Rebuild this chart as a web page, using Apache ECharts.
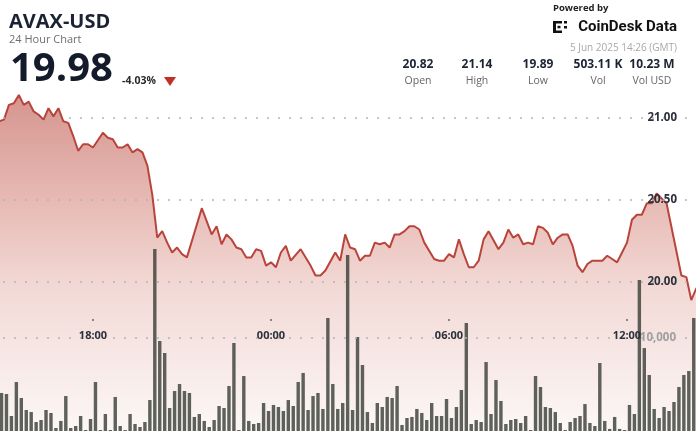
<!DOCTYPE html>
<html><head><meta charset="utf-8">
<script src="https://cdn.jsdelivr.net/npm/echarts@6/dist/echarts.min.js"></script>
<style>html,body{margin:0;padding:0;background:#fff}#c{width:696px;height:431px}</style>
</head><body><div id="c"></div>
<script>
// Times are minutes relative to 00:00 GMT, 5 Jun 2025 (negative = 4 Jun)
const priceTimes = [-550,-540,-530,-520,-510,-500,-490,-480,-470,-460,-450,-440,-430,-420,-410,-400,-390,-380,-370,-360,
  -340,-330,-320,-310,-300,-290,-280,-270,-260,-250,-240,-230,-220,-210,-200,-190,-180,-170,-140,-120,
  -110,-100,-90,-80,-70,-60,-50,-40,-30,-20,-10,0,10,20,30,40,60,80,90,100,
  110,130,140,150,160,170,180,190,200,210,220,230,240,250,260,270,280,290,300,310,
  330,340,350,360,370,380,390,400,410,420,430,440,460,470,480,490,500,510,520,530,
  540,550,560,570,580,590,600,610,620,630,640,650,670,680,690,700,710,720,730,740,
  750,760,770,780,790,800,830,840,850,860,866];
const prices = [20.98,20.99,21.08,21.09,21.14,21.08,21.10,21.04,21.02,20.99,21.06,21.01,21.06,20.98,20.97,20.89,20.80,20.84,20.84,20.82,
  20.91,20.88,20.87,20.82,20.82,20.84,20.79,20.81,20.79,20.71,20.53,20.27,20.31,20.24,20.18,20.21,20.17,20.15,20.45,20.29,
  20.34,20.23,20.29,20.26,20.21,20.20,20.15,20.15,20.20,20.19,20.10,20.12,20.09,20.18,20.22,20.13,20.20,20.10,20.04,20.04,
  20.07,20.18,20.13,20.29,20.21,20.20,20.13,20.16,20.16,20.24,20.23,20.24,20.21,20.29,20.29,20.31,20.34,20.34,20.32,20.24,
  20.14,20.13,20.13,20.17,20.15,20.26,20.17,20.09,20.09,20.13,20.26,20.31,20.20,20.24,20.32,20.27,20.29,20.23,20.24,20.23,
  20.34,20.33,20.30,20.23,20.27,20.29,20.29,20.22,20.10,20.06,20.11,20.13,20.13,20.16,20.14,20.12,20.18,20.24,20.38,20.41,
  20.41,20.48,20.48,20.54,20.51,20.48,20.04,20.03,19.89,19.96,19.98];
// 10-minute volume bars, first bar centred at volStart, one bar per 10 minutes
const volStart = -545;
const volStep = 10;
const volumes = [4090,3980,1610,5270,3550,2260,2040,970,1180,2260,
  1940,320,1080,3760,320,540,1610,110,1290,5270,
  110,1830,110,3660,540,110,1830,750,430,970,
  3330,19570,9680,8390,2470,4300,5050,4300,4090,1510,
  1830,1080,430,1180,2690,2470,4840,9460,110,5910,
  1080,750,860,3010,2150,2800,2580,2150,3330,2690,
  5270,6240,2260,3760,4090,2370,12150,5050,2370,3010,
  18920,2260,10110,7100,2040,860,3010,2580,3660,3550,
  4840,650,1400,1510,2370,1940,1180,3010,1610,1610,
  3440,1400,2580,4410,11610,750,1180,970,7420,1830,
  5480,3230,750,1180,1290,860,1610,110,5910,4730,
  2580,2470,2040,860,110,970,1400,1610,2900,860,
  540,7310,1080,220,1510,220,110,2800,1830,16240,
  8920,6020,2370,1400,2580,2150,3120,4730,6020,6450,
  12150,4620];
const timeTicks = [-360, 0, 360, 720];
const timeTickLabels = ['18:00', '00:00', '06:00', '12:00'];
const priceTicks = [20.00, 20.50, 21.00];
const volTicks = [10000];
const stats = [['20.82','Open'],['21.14','High'],['19.89','Low'],['503.11 K','Vol'],['10.23 M','Vol USD']];

const FONT = '"Open Sans", "Noto Sans", sans-serif';
const priceData = priceTimes.map((t, i) => [t, prices[i]]);
const volData = volumes.map((v, i) => [volStart + volStep * i, v]);
const dotted = {type: [2, 9], color: '#b4b4b4', width: 1.5};

const statX = [418, 477, 538, 598, 652];
const graphics = [
  {type:'text', x:9, y:22, style:{text:'AVAX-USD', font:'bold 20px ' + FONT, fill:'#1b2333', verticalAlign:'middle'}},
  {type:'text', x:9, y:40, style:{text:'24 Hour Chart', font:'11px ' + FONT, fill:'#6e6e6e', verticalAlign:'middle'}},
  {type:'text', x:10, y:70, style:{text:'19.98', font:'bold 40px ' + FONT, fill:'#141c2c', verticalAlign:'middle'}},
  {type:'text', x:122, y:81, style:{text:'-4.03%', font:'bold 10.5px ' + FONT, fill:'#2a2a2a', verticalAlign:'middle'}},
  {type:'polygon', shape:{points:[[164,77],[176,77],[170,86]]}, style:{fill:'#c0302a'}},
  {type:'text', x:553, y:8, style:{text:'Powered by', font:'bold 9.5px ' + FONT, fill:'#222', verticalAlign:'middle'}},
  {type:'rect', shape:{x:553,y:21,width:3,height:12}, style:{fill:'#111'}},
  {type:'rect', shape:{x:553,y:21,width:9,height:2.5}, style:{fill:'#111'}},
  {type:'rect', shape:{x:553,y:30.5,width:9,height:2.5}, style:{fill:'#111'}},
  {type:'rect', shape:{x:557.5,y:25.8,width:3,height:2.5}, style:{fill:'#111'}},
  {type:'rect', shape:{x:564,y:21,width:3,height:2.5}, style:{fill:'#111'}},
  {type:'rect', shape:{x:564,y:26,width:3,height:2.5}, style:{fill:'#111'}},
  {type:'text', x:677, y:27, style:{text:'CoinDesk Data', font:'bold 15px Roboto, ' + FONT, fill:'#111', align:'right', verticalAlign:'middle'}},
  {type:'text', x:677, y:48, style:{text:'5 Jun 2025 14:26 (GMT)', font:'10px ' + FONT, fill:'#a8a8a8', align:'right', verticalAlign:'middle'}}
];
stats.forEach((s, i) => {
  graphics.push({type:'text', x:statX[i], y:65, style:{text:s[0], font:'bold 12px ' + FONT, fill:'#1b2333', align:'center', verticalAlign:'middle'}});
  graphics.push({type:'text', x:statX[i], y:81, style:{text:s[1], font:'10.5px ' + FONT, fill:'#666', align:'center', verticalAlign:'middle'}});
});

function near(arr, v) { return arr.findIndex(a => Math.abs(a - v) < 1e-6); }

const chart = echarts.init(document.getElementById('c'), null, {renderer:'canvas'});
chart.setOption({
  animation: false,
  backgroundColor: '#ffffff',
  grid: [
    {left: -85, right: -20, top: 36, bottom: -15, containLabel:false, outerBoundsMode:'none'},
    {left: -85, right: -20, top: 245, bottom: 0, containLabel:false, outerBoundsMode:'none'},
    {left: -85, right: -20, top: 0, bottom: 112, containLabel:false, outerBoundsMode:'none'}
  ],
  xAxis: [
    {type:'value', gridIndex:0, min:-720, max:900, interval:360, show:false},
    {type:'value', gridIndex:1, min:-720, max:900, interval:360, show:false},
    {type:'value', gridIndex:2, min:-720, max:900, interval:360, position:'bottom', z:10,
      axisLine:{show:true, onZero:false, lineStyle:{color:'rgba(0,0,0,0)', width:0}}, splitLine:{show:false},
      axisTick:{show:true, length:2, lineStyle:{color:'#666', width:1.5}},
      axisLabel:{margin:11, fontFamily:FONT, fontSize:11, fontWeight:'bold', color:'#2b303b',
        formatter: v => { const i = near(timeTicks, v); return i >= 0 ? timeTickLabels[i] : ''; }}}
  ],
  yAxis: [
    {type:'value', gridIndex:0, min:19.0, max:21.5, interval:0.5, position:'right', z:10,
      axisLine:{show:false}, axisTick:{show:false}, splitLine:{show:false},
      axisLabel:{inside:true, margin:39, fontFamily:FONT, fontSize:11.5, fontWeight:'bold', color:'#2b303b',
        formatter: v => near(priceTicks, v) >= 0 ? v.toFixed(2) : ''}},
    {type:'value', gridIndex:1, min:0, max:20000, interval:10000, position:'right', z:10,
      axisLine:{show:false}, axisTick:{show:false},
      splitLine:{show:true, showMinLine:false, showMaxLine:false, lineStyle:dotted},
      axisLabel:{inside:true, margin:40, fontFamily:FONT, fontSize:11.5, fontWeight:'bold', color:'#a0a0a0',
        formatter: v => near(volTicks, v) >= 0 ? v.toLocaleString('en-US') : ''}},
    {type:'value', gridIndex:2, min:0, max:1, show:false}
  ],
  series: [
    {type:'line', xAxisIndex:0, yAxisIndex:0, data:priceData, symbol:'none', z:2,
      lineStyle:{color:'#b8443b', width:2},
      areaStyle:{color: new echarts.graphic.LinearGradient(0,0,0,1,[
        {offset:0, color:'rgb(196,104,94)'},
        {offset:0.3, color:'rgb(221,156,148)'},
        {offset:0.55, color:'rgb(237,201,196)'},
        {offset:0.95, color:'rgb(250,243,242)'},
        {offset:1, color:'rgb(252,247,246)'}])},
      markLine:{silent:true, z:5, symbol:'none', label:{show:false}, lineStyle:dotted,
        data: priceTicks.map(p => ({yAxis:p}))}},
    {type:'bar', xAxisIndex:1, yAxisIndex:1, data:volData, barWidth:3.4, z:3,
      itemStyle:{color:'rgba(55,60,52,0.8)'}}
  ],
  graphic: graphics
});
</script></body></html>
